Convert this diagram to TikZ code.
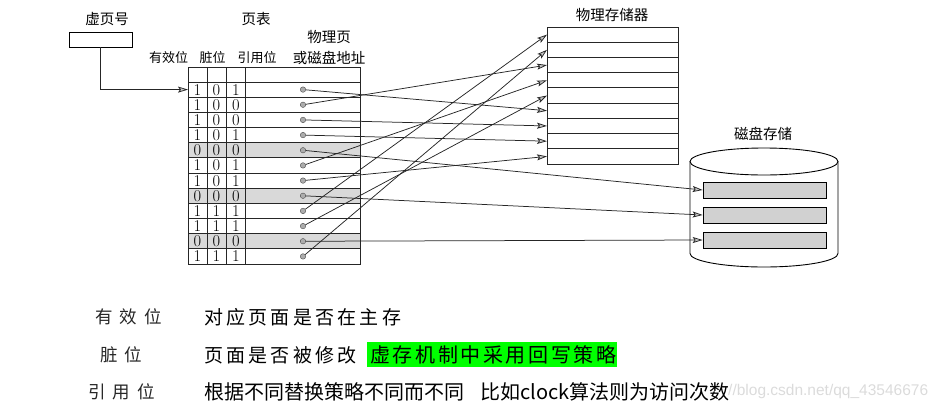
\documentclass[tikz,border=0pt]{standalone}
\usepackage{fontspec}
\setsansfont{Liberation Sans}
\newfontfamily\cjk{Noto Sans CJK SC}
\newfontfamily\cjkwide[LetterSpace=17]{Noto Sans CJK SC}
\newfontfamily\cjkbox[LetterSpace=13]{Noto Sans CJK SC}
\newfontfamily\cjkleft[LetterSpace=40]{Noto Sans CJK SC}
\usetikzlibrary{arrows.meta}
\definecolor{rowgray}{gray}{0.85}
\definecolor{bargray}{gray}{0.82}
\definecolor{hlgreen}{RGB}{0,255,0}
\tikzset{
  lbl/.style={font=\cjk\fontsize{14.5pt}{16pt}\selectfont, inner sep=0pt},
  hlbl/.style={font=\cjk\fontsize{13pt}{15pt}\selectfont, inner sep=0pt},
  tline/.style={line width=0.8pt, black!85},
  bit/.style={font=\fontsize{16.5pt}{16.5pt}\selectfont, inner sep=0pt, text height=11pt, text depth=0pt},
  dot/.style={circle, inner sep=0pt, minimum size=5.5pt, fill=gray!65, draw=black!70, line width=0.4pt},
  conn/.style={line width=0.75pt, black!85, -{Stealth[length=10pt,width=6pt,inset=2pt,fill=gray!45]}},
  vbox/.style={draw, line width=0.9pt, minimum width=63pt, minimum height=15pt, inner sep=0pt},
  diskbar/.style={draw, line width=0.7pt, fill=bargray, minimum width=123pt, minimum height=16pt, inner sep=0pt},
  keytxt/.style={anchor=west, inner sep=0pt, font=\cjkleft\fontsize{17.5pt}{19pt}\selectfont, black!85},
  valtxt/.style={anchor=west, inner sep=0pt, font=\cjkwide\fontsize{19pt}{21pt}\selectfont},
}
\begin{document}
\begin{tikzpicture}[x=1pt,y=-1pt]
\useasboundingbox (0,0) rectangle (943,413);

% labels
\node[lbl] (lvpn) at (107,19) {虚页号};
\node[lbl] (ltab) at (256,19) {页表};
\node[lbl] (lppn1) at (329,37.5) {物理页};
\node[lbl] (lppn2) at (329,57.5) {或磁盘地址};
\node[hlbl] (lvalid) at (168.5,57.5) {有效位};
\node[hlbl] (ldirty) at (212.5,57.5) {脏位};
\node[hlbl] (lref) at (257,57.5) {引用位};
\node[lbl] (lphys) at (612,15) {物理存储器};
\node[lbl] (ldisk) at (763,134) {磁盘存储};

% virtual page number box
\node[vbox] (vbox) at (100.5,39.5) {};

% page table shading
\foreach \i in {5,8,11}{
  \pgfmathsetmacro\ya{82+15.1667*(\i-1)}
  \pgfmathsetmacro\yb{82+15.1667*\i}
  \fill[rowgray] (188,\ya) rectangle (360,\yb);
}
% page table lines
\draw[tline] (188,67) rectangle (360,264);
\foreach \k in {0,...,11}{
  \pgfmathsetmacro\yy{82+15.1667*\k}
  \draw[tline] (188,\yy) -- (360,\yy);
}
\foreach \xx in {207,226,245.5} \draw[tline] (\xx,67) -- (\xx,264);

% bits and dots
\foreach \a/\b/\c [count=\i] in {1/0/1,1/0/0,1/0/0,1/0/1,0/0/0,1/0/1,1/0/1,0/0/0,1/1/1,1/1/1,0/0/0,1/1/1}{
  \pgfmathsetmacro\yc{82+15.1667*(\i-0.5)}
  \node[bit] (a\i) at (197.5,\yc) {\a};
  \node[bit] (b\i) at (216.5,\yc) {\b};
  \node[bit] (c\i) at (235.8,\yc) {\c};
  \node[dot] (d\i) at (303,\yc) {};
}
\coordinate (tin) at (188,89.6);
\draw[conn] (vbox.south) |- (tin);

% physical memory
\draw[tline] (547,27) rectangle (678,164);
\foreach \k in {1,...,8}{
  \pgfmathsetmacro\yy{27+15.2222*\k}
  \draw[tline] (547,\yy) -- (678,\yy);
}
\foreach \i in {1,...,9}{
  \pgfmathsetmacro\yc{27+15.2222*(\i-0.5)}
  \coordinate (p\i) at (547,\yc);
}

% disk cylinder
\draw[line width=0.9pt] (690,161.5) -- (690,253.5)
  arc[start angle=180,end angle=0,x radius=74,y radius=13.5] -- (838,161.5);
\draw[line width=0.9pt] (764,161.5) ellipse [x radius=74, y radius=13.5];
\node[diskbar] (bar1) at (764.5,190) {};
\node[diskbar] (bar2) at (764.5,215) {};
\node[diskbar] (bar3) at (764.5,240) {};

% connectors
\foreach \s/\t in {1/6,2/3,3/7,4/8,6/4,7/9,9/1,10/5,12/2}
  \draw[conn] (d\s) -- (p\t);
\draw[conn] (d5) -- (bar1.west);
\draw[conn] (d8) -- (bar2.west);
\draw[conn] (d11) -- (bar3.west);

% legend text
\node[keytxt] (k1) at (95,317) {有效位};
\node[valtxt] (v1) at (204,317) {对应页面是否在主存};
\node[keytxt] (k2) at (100,355) {脏位};
\node[valtxt] (v2) at (204,355) {页面是否被修改};
\node[fill=hlgreen, minimum width=250pt, minimum height=25pt, inner sep=0pt,
      font=\cjkbox\fontsize{20pt}{22pt}\selectfont] (hl) at (492,354.5) {\hspace{2.6pt}虚存机制中采用回写策略};
\node[keytxt] (k3) at (88,392) {引用位};
\node[anchor=west, inner sep=0pt, font=\cjk\fontsize{20pt}{22pt}\selectfont] (v3) at (204,392)
  {根据不同替换策略不同而不同\hspace{16pt}比如clock算法则为访问次数};
\node[anchor=west, inner sep=0pt, text=gray!28, font=\sffamily\fontsize{15.5pt}{17pt}\selectfont] (wm) at (728,391) {//blog.csdn.net/qq\_43546676};
\end{tikzpicture}
\end{document}
